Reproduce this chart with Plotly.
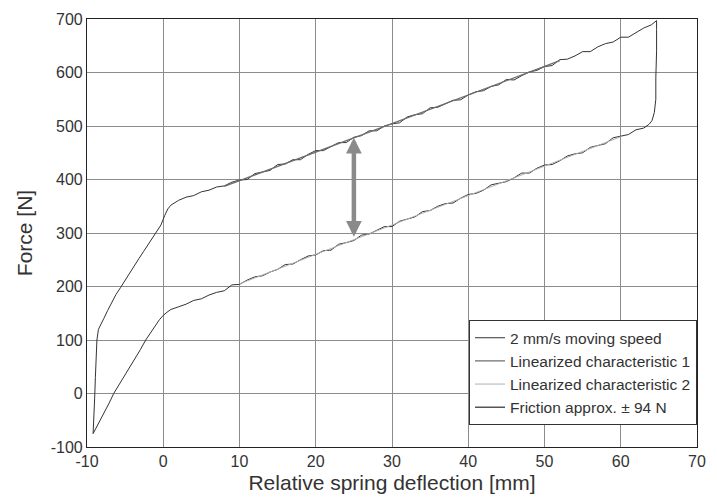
import plotly.graph_objects as go

# Measured hysteresis loop (2 mm/s moving speed)
loop_x = [
    -9.2, -9.1, -9.0, -8.9, -8.8, -8.7, -8.5, -8.2, -7.8, -7.3, -6.8, -6.2, -5.6, -5.0,
    -4.4, -3.8, -3.2, -2.6, -2.0, -1.4, -0.8, -0.3, 0.2, 0.6, 1.0, 1.5, 2, 3, 4, 5, 6,
    7, 8, 9, 10, 11, 12, 13, 14, 15, 16, 17, 18, 19, 20, 21, 22, 23, 24, 25, 26, 27,
    28, 29, 30, 31, 32, 33, 34, 35, 36, 37, 38, 39, 40, 41, 42, 43, 44, 45, 46, 47,
    48, 49, 50, 51, 52, 53, 54, 55, 56, 57, 58, 59, 60, 61, 62, 63, 64, 64.4, 64.7,
    64.7, 64.7, 64.6, 64.6, 64.4, 64.1, 63.7, 63.4,
    63, 62, 61, 60, 59, 58, 57, 56, 55, 54, 53, 52, 51, 50, 49, 48, 47, 46, 45, 44,
    43, 42, 41, 40, 39, 38, 37, 36, 35, 34, 33, 32, 31, 30, 29, 28, 27, 26, 25, 24,
    23, 22, 21, 20, 19, 18, 17, 16, 15, 14, 13, 12, 11, 10, 9, 8, 7, 6, 5, 4, 3, 2,
    1, 0.5, 0, -0.5, -1, -1.6, -2.3, -3, -3.7, -4.4, -5.1, -5.8, -6.5, -7.1, -7.7,
    -8.3, -8.8, -9.2,
]
loop_y = [
    -75, -50, -10, 30, 70, 100, 120, 130, 140, 155, 170, 185, 198, 212,
    225, 238, 252, 265, 278, 291, 303, 315, 333, 345, 352, 357, 361, 367, 370, 377, 380,
    386, 388, 395, 399, 400, 411, 414, 417, 428, 429, 437, 437, 447, 454, 454, 462,
    469, 469, 479, 482, 491, 491, 500, 504, 506, 517, 521, 523, 534, 535, 541, 548,
    549, 558, 564, 566, 574, 577, 587, 586, 594, 601, 604, 611, 613, 624, 625, 631,
    639, 639, 648, 654, 657, 666, 666, 675, 683, 689, 693, 697,
    680, 640, 590, 550, 525, 510, 503, 500,
    496, 493, 484, 481, 478, 467, 464, 460, 450, 448, 444, 435, 428, 427, 421, 412,
    412, 403, 396, 393, 390, 380, 374, 372, 365, 356, 355, 350, 342, 340, 330, 326,
    322, 312, 312, 305, 298, 296, 286, 282, 279, 268, 267, 259, 257, 250, 242, 241,
    232, 227, 220, 218, 212, 204, 203, 192, 189, 184, 177, 174, 167, 162,
    157, 152, 146, 138, 128, 116, 100, 82, 66, 50, 33, 16, 0, -18, -35,
    -52, -65, -75,
]

# Linearized characteristics
lin1_x = [8, 52]
lin1_y = [387, 622]
lin2_x = [10, 60]
lin2_y = [205, 480]

# Friction approximation (centre +/- 94 N at 25 mm)
friction_x = 25
friction_centre = 384
friction_half = 94

x_ticks = [-10, 0, 10, 20, 30, 40, 50, 60, 70]
y_ticks = [-100, 0, 100, 200, 300, 400, 500, 600, 700]

FONT = "Liberation Sans, Arial, sans-serif"

fig = go.Figure()
fig.add_trace(go.Scatter(x=loop_x, y=loop_y, mode="lines", name="2 mm/s moving speed",
                         line=dict(color="#333333", width=1)))
fig.add_trace(go.Scatter(x=lin1_x, y=lin1_y, mode="lines", name="Linearized characteristic 1",
                         line=dict(color="#6e6e6e", width=1.3)))
fig.add_trace(go.Scatter(x=lin2_x, y=lin2_y, mode="lines", name="Linearized characteristic 2",
                         line=dict(color="#b0b0b0", width=1.0)))
fig.add_trace(go.Scatter(x=[None], y=[None], mode="lines", name="Friction approx. \u00b1 94 N",
                         line=dict(color="#555555", width=1.5)))

fig.add_annotation(x=friction_x, y=friction_centre + friction_half,
                   ax=friction_x, ay=friction_centre - friction_half,
                   xref="x", yref="y", axref="x", ayref="y", text="",
                   showarrow=True, arrowhead=2, arrowside="end+start",
                   arrowsize=0.7, arrowwidth=4.5, arrowcolor="#8a8a8a")

axis_common = dict(showgrid=True, gridcolor="#8c8c8c", gridwidth=1, zeroline=False,
                   showline=True, linecolor="#222222", linewidth=1.2, mirror=True,
                   ticks="", tickfont=dict(family=FONT, size=16, color="#333333"),
                   title_font=dict(family=FONT, size=21, color="#333333"))

fig.update_xaxes(range=[-10, 70], tickvals=x_ticks, ticktext=[str(v) for v in x_ticks],
                 title_text="Relative spring deflection [mm]", title_standoff=6, **axis_common)
fig.update_yaxes(range=[-100, 700], tickvals=y_ticks, ticktext=[str(v) for v in y_ticks],
                 title_text="Force [N]", title_standoff=12, **axis_common)

fig.update_layout(
    width=717, height=502,
    margin=dict(l=87, r=11, t=15, b=55),
    paper_bgcolor="white", plot_bgcolor="white",
    showlegend=True,
    legend=dict(x=1, y=0.051, xanchor="right", yanchor="bottom",
                bgcolor="white", bordercolor="#333333", borderwidth=1,
                font=dict(family=FONT, size=15.5, color="#333333"),
                itemwidth=30, tracegroupgap=0),
)

fig.write_html("out.html")
